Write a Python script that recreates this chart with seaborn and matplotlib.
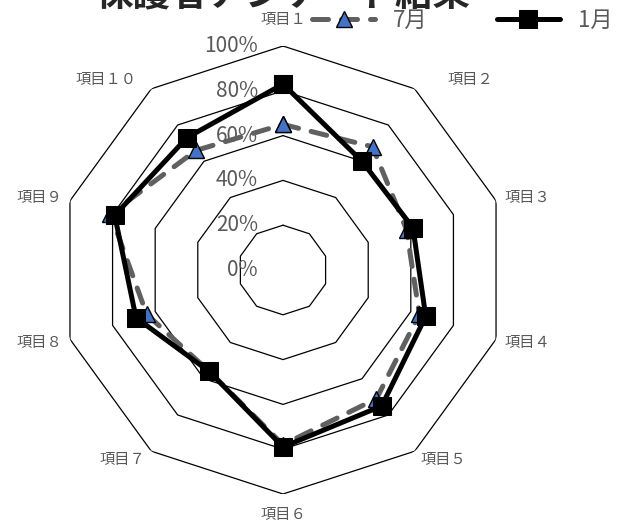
import numpy as np
import matplotlib
import seaborn as sns
import matplotlib.pyplot as plt
from matplotlib.transforms import ScaledTranslation

matplotlib.use('Agg')

# データ
items = ['項目１', '項目２', '項目３', '項目４', '項目５',
         '項目６', '項目７', '項目８', '項目９', '項目１０']
jul = [65, 68, 58, 64, 71, 78, 56, 64, 81, 66]   # 7月
jan = [83, 60, 61, 67, 75, 79, 56, 69, 79, 73]   # 1月
ticks = [0, 20, 40, 60, 80, 100]
title = '保護者アンケート結果'

sns.set_style('white')
plt.rcParams['font.family'] = ['Noto Sans CJK JP', 'DejaVu Sans']

n = len(items)
theta = np.linspace(0, 2 * np.pi, n, endpoint=False)
th = np.append(theta, theta[0])

fig = plt.figure(figsize=(6.2, 5.22), dpi=100)
ax = fig.add_axes([0.09516, 0.05364, 0.72258, 0.85824], projection='polar')
ax.set_theta_zero_location('N')
ax.set_theta_direction(-1)
ax.set_ylim(0, 100)
ax.grid(False)
ax.spines['polar'].set_visible(False)
ax.set_xticks([])
ax.set_yticks([])
ax.set_facecolor('none')

# 十角形のグリッド
for v in ticks[1:]:
    ax.plot(th, [v] * (n + 1), color='black', lw=0.9, zorder=1)

# 目盛ラベル
gray = '#595959'
off = ax.transData + ScaledTranslation(-25 / 100, 0, fig.dpi_scale_trans)
for v in ticks:
    ax.text(0, v, f'{v}%', transform=off, ha='right', va='center',
            fontsize=15, color=gray, zorder=1)

# 系列
sns.lineplot(x=th, y=np.append(jul, jul[0]), sort=False, estimator=None, ax=ax,
             color='#606060', lw=3.6, linestyle=(0, (3.2, 2.6)),
             dash_capstyle='round', marker='^', markersize=11,
             markerfacecolor='#4472C4', markeredgecolor='black',
             markeredgewidth=1, label='7月', zorder=3, clip_on=False)
sns.lineplot(x=th, y=np.append(jan, jan[0]), sort=False, estimator=None, ax=ax,
             color='black', lw=3.6, marker='s', markersize=13,
             markerfacecolor='black', markeredgecolor='black',
             label='1月', zorder=4, clip_on=False)
ax.set_xlabel('')
ax.set_ylabel('')

# 項目ラベル
offsets = [(0, 26), (56, 9), (31, 3), (31, -3), (29, -8),
           (0, -21), (-29, -8), (-31, -3), (-31, 3), (-45, 9)]
for t, lab, o in zip(theta, items, offsets):
    ax.annotate(lab, xy=(t, 100), xytext=o, textcoords='offset pixels',
                ha='center', va='center', fontsize=11, color=gray,
                annotation_clip=False)

ax.legend(loc='center left', bbox_to_anchor=(312 / 620, 1 - 20 / 522),
          bbox_transform=fig.transFigure, frameon=False, ncol=2,
          handlelength=2.85, handletextpad=0.8, columnspacing=3.1,
          borderpad=0, borderaxespad=0, fontsize=16, labelcolor=gray)

fig.text(283 / 620, 1 - 5 / 522, title, ha='center', va='baseline',
         fontsize=27, fontweight='bold')

fig.savefig('out.png', dpi=100)
